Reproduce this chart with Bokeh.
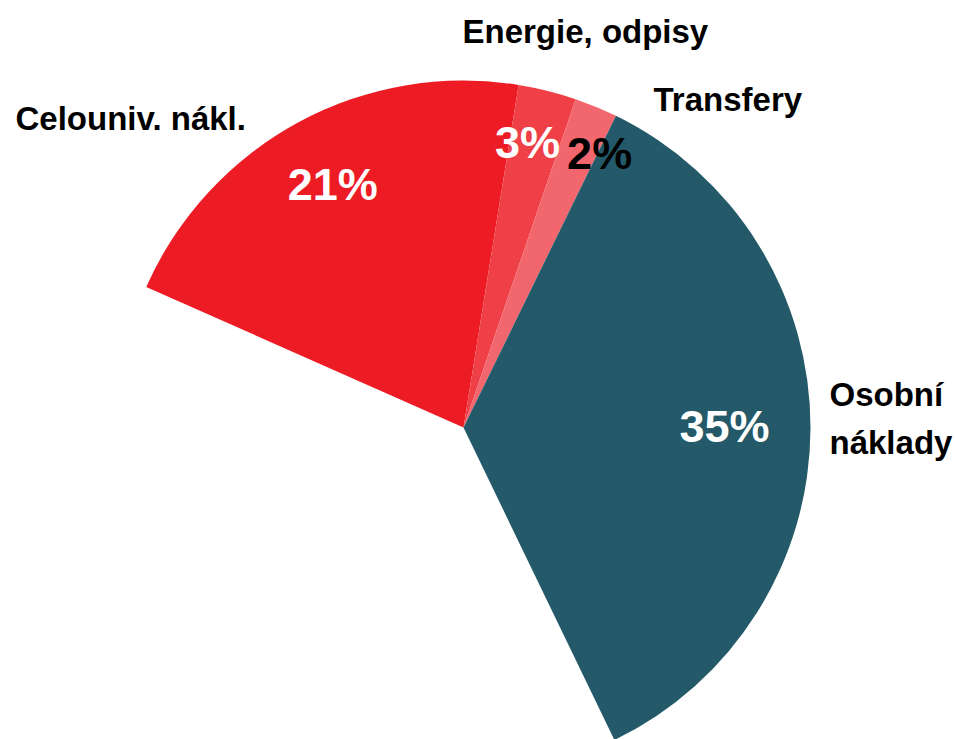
import math
from bokeh.plotting import figure
from bokeh.models import ColumnDataSource, Range1d
from bokeh.core.properties import value
from bokeh.embed import file_html
from bokeh.resources import INLINE

# ---- data (clockwise order, shares in % of the whole budget) ----
categories = ["Celouniv. nákl.", "Energie, odpisy", "Transfery", "Osobní\nnáklady"]
shares = [20.9, 2.7, 2.0, 35.6]
pct_labels = ["21%", "3%", "2%", "35%"]

# ---- styling / layout ----
colors = ["#ED1C24", "#EF3F47", "#F2666E", "#235968"]
pct_colors = ["white", "white", "black", "white"]
pct_radius = [0.79, 0.845, 0.876, 0.752]
pct_nudge = [(0, 2), (-7, 0), (20, -7), (0, 2)]
cat_pos = [(15, 118), (462, 31), (653, 99), (829, 418)]
cat_baseline = ["alphabetic", "alphabetic", "alphabetic", "middle"]
FONT = "Liberation Sans"

W, H = 956, 739
CX, CY, R = 463, 427, 347          # centre in screen px
START = -66.1                      # first slice starts here (deg clockwise from top)

def sy(y):
    return H - y

p = figure(width=W, height=H, x_range=Range1d(0, W), y_range=Range1d(0, H),
           output_backend="svg", toolbar_location=None, min_border=0,
           x_axis_type=None, y_axis_type=None)
p.grid.visible = False
p.outline_line_color = None
p.background_fill_color = "white"

starts, ends, lx, ly = [], [], [], []
cum = 0.0
for i, s in enumerate(shares):
    t0 = START + cum * 3.6
    t1 = t0 + s * 3.6
    cum += s
    starts.append(math.radians(90 - t1))
    ends.append(math.radians(90 - t0))
    mid = math.radians((t0 + t1) / 2)
    r = R * pct_radius[i]
    lx.append(CX + r * math.sin(mid) + pct_nudge[i][0])
    ly.append(sy(CY - r * math.cos(mid)) + pct_nudge[i][1])

src = ColumnDataSource(dict(x=[CX] * len(shares), y=[sy(CY)] * len(shares),
                            start=starts, end=ends, color=colors,
                            lx=lx, ly=ly, pct=pct_labels, pcol=pct_colors))
p.wedge(x="x", y="y", radius=R, start_angle="start", end_angle="end",
        direction="anticlock", fill_color="color", line_color=None, source=src)

p.text(x="lx", y="ly", text="pct", text_color="pcol", source=src,
       text_font=value(FONT), text_font_style="bold", text_font_size="45px",
       text_align="center", text_baseline="middle")

for i, name in enumerate(categories):
    x, y = cat_pos[i]
    p.text(x=[x], y=[sy(y)], text=[name], text_font=value(FONT),
           text_font_style="bold", text_font_size="33px", text_color="black",
           text_align="left", text_baseline=cat_baseline[i], text_line_height=1.3)

open("out.html", "w").write(file_html(p, INLINE))
